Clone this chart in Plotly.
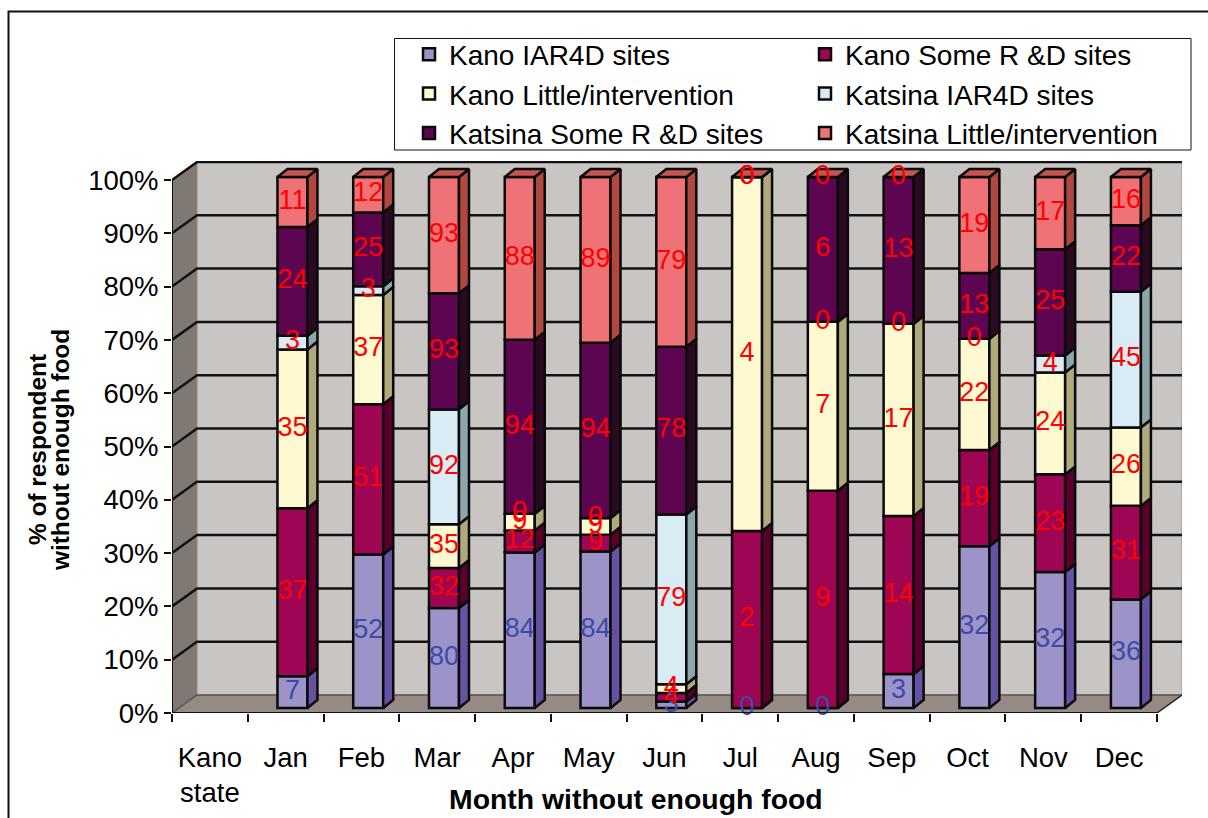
import plotly.graph_objects as go

categories = ["Kano<br>state", "Jan", "Feb", "Mar", "Apr", "May", "Jun", "Jul", "Aug", "Sep", "Oct", "Nov", "Dec"]
kano_iar4d = [0, 7, 52, 80, 84, 84, 3, 0, 0, 3, 32, 32, 36]
kano_some = [0, 37, 51, 32, 12, 9, 4, 2, 9, 14, 19, 23, 31]
kano_little = [0, 35, 37, 35, 9, 9, 4, 4, 7, 17, 22, 24, 26]
katsina_iar4d = [0, 3, 3, 92, 0, 0, 79, 0, 0, 0, 0, 4, 45]
katsina_some = [0, 24, 25, 93, 94, 94, 78, 0, 6, 13, 13, 25, 22]
katsina_little = [0, 11, 12, 93, 88, 89, 79, 0, 0, 0, 19, 17, 16]
y_ticks = list(range(0, 101, 10))
y_tick_labels = [f"{v}%" for v in y_ticks]

series = [
    ("Kano IAR4D sites", kano_iar4d, "#9C93C8", "#6552A2", "#3B4BA8"),
    ("Kano Some R &D sites", kano_some, "#9E0552", "#58002B", "#FF0000"),
    ("Kano Little/intervention", kano_little, "#FFF9D2", "#AFA97C", "#FF0000"),
    ("Katsina IAR4D sites", katsina_iar4d, "#D9EBF4", "#8AA8AB", "#FF0000"),
    ("Katsina Some R &D sites", katsina_some, "#5E0552", "#2A0A20", "#FF0000"),
    ("Katsina Little/intervention", katsina_little, "#EE7276", "#B0483F", "#FF0000"),
]
TOP_COLOR = "#C4554F"
FONT = "Liberation Sans"
EDGE = "#0A0A0A"

# page geometry (pixels)
W, H = 1208, 818
L, R, T, B = 172, 1182, 161, 713
CAT_PX = (1157 - 172) / 13
PCT_PX = (B - 180) / 100
x_range = [-0.5, -0.5 + (R - L) / CAT_PX]
y_range = [0, (B - T) / PCT_PX]
WALL_DX, WALL_DY = 25 / CAT_PX, 18 / PCT_PX
BAR_DX, BAR_DY = 10 / CAT_PX, 8 / PCT_PX
BAR_W = 30 / CAT_PX
BAR_SHIFT = 6.8 / CAT_PX
BAR_LIFT = 5 / PCT_PX
BAR_SCALE = 531 / 533


def px(x):
    return (x - L) / (R - L)


def py(y):
    return (B - y) / (B - T)


positions = list(range(len(categories)))
totals = [sum(s[1][i] for s in series) for i in positions]

fig = go.Figure()
running = [0.0] * len(categories)
label_x, label_y, label_t, label_c = [], [], [], []
side_traces = []
for name, vals, front, side, txt in series:
    bases, heights, sx, sy = [], [], [], []
    for i in positions:
        if totals[i] == 0:
            bases.append(None)
            heights.append(None)
            continue
        h = vals[i] / totals[i] * 100 * BAR_SCALE
        b0 = running[i] + BAR_LIFT
        bases.append(b0)
        heights.append(h)
        running[i] += h
        right = i + BAR_SHIFT + BAR_W / 2
        sx += [right, right + BAR_DX, right + BAR_DX, right, right, None]
        sy += [b0, b0 + BAR_DY, b0 + h + BAR_DY, b0 + h, b0, None]
        label_x.append(i + BAR_SHIFT)
        label_y.append(b0 + h / 2)
        label_t.append(str(vals[i]))
        label_c.append(txt)
    fig.add_trace(go.Bar(
        x=positions, y=heights, base=bases, name=name, width=BAR_W,
        offset=BAR_SHIFT - BAR_W / 2,
        marker=dict(color=front, line=dict(color=EDGE, width=2.5)),
        hoverinfo="skip",
    ))
    side_traces.append(go.Scatter(
        x=sx, y=sy, mode="lines", fill="toself", fillcolor=side,
        line=dict(color=EDGE, width=2.5), showlegend=False, hoverinfo="skip",
    ))

for tr in side_traces:
    fig.add_trace(tr)

# top faces
tx, ty = [], []
for i in positions:
    if totals[i] == 0:
        continue
    l, r = i + BAR_SHIFT - BAR_W / 2, i + BAR_SHIFT + BAR_W / 2
    t = running[i] + BAR_LIFT
    tx += [l, r, r + BAR_DX, l + BAR_DX, l, None]
    ty += [t, t, t + BAR_DY, t + BAR_DY, t, None]
fig.add_trace(go.Scatter(
    x=tx, y=ty, mode="lines", fill="toself", fillcolor=TOP_COLOR,
    line=dict(color=EDGE, width=2.5), showlegend=False, hoverinfo="skip",
))

fig.add_trace(go.Scatter(
    x=label_x, y=label_y, mode="text", text=label_t,
    textfont=dict(family=FONT, size=27, color=label_c),
    textposition="middle center", showlegend=False, hoverinfo="skip", cliponaxis=False,
))

x0, x1 = x_range
shapes = []
# left wall, back wall, floor
shapes.append(dict(type="path", layer="below", xref="x", yref="y",
                   path=f"M{x0},0 L{x0+WALL_DX},{WALL_DY} L{x0+WALL_DX},{100+WALL_DY} L{x0},100 Z",
                   fillcolor="#807873", line=dict(width=0)))
shapes.append(dict(type="rect", layer="below", xref="x", yref="y",
                   x0=x0 + WALL_DX, x1=x1, y0=WALL_DY, y1=100 + WALL_DY,
                   fillcolor="#C9C5C3", line=dict(color="#8F8A87", width=1)))
shapes.append(dict(type="path", layer="below", xref="x", yref="y",
                   path=f"M{x0},0 L{x0+WALL_DX},{WALL_DY} L{x1},{WALL_DY} L{x1-WALL_DX},0 Z",
                   fillcolor="#958A85", line=dict(width=0)))
# grid lines across walls
for v in y_ticks:
    color, width = ("#5C5552", 1.5) if v == 0 else ("#111111", 2.5)
    shapes.append(dict(type="path", layer="below", xref="x", yref="y",
                       path=f"M{x0},{v} L{x0+WALL_DX},{v+WALL_DY} L{x1},{v+WALL_DY}",
                       line=dict(color=color, width=width)))
shapes.append(dict(type="line", layer="below", xref="x", yref="y",
                   x0=x1 - WALL_DX, y0=0, x1=x1, y1=WALL_DY, line=dict(color="#222222", width=1.5)))
# legend box and outer frame
shapes.append(dict(type="rect", layer="below", xref="paper", yref="paper",
                   x0=px(394.5), x1=px(1191), y0=py(38.5), y1=py(150),
                   fillcolor="white", line=dict(color="#111111", width=1)))
shapes.append(dict(type="path", layer="below", xref="paper", yref="paper",
                   path=f"M{px(8.5)},{py(830)} L{px(8.5)},{py(11.5)} L{px(1300)},{py(11.5)}",
                   line=dict(color="#111111", width=2)))

axis_font = dict(family=FONT, size=27.5, color="black")
title_font = dict(family=FONT, size=24.4, color="black")
fig.update_layout(
    width=W, height=H, autosize=False,
    margin=dict(l=L, r=W - R, t=T, b=H - B, pad=0),
    paper_bgcolor="white", plot_bgcolor="white",
    barmode="overlay", shapes=shapes,
    showlegend=True,
    legend=dict(orientation="h", xref="container", yref="container", x=409 / W, y=1 - 29.5 / H,
                xanchor="left", yanchor="top",
                entrywidth=351, entrywidthmode="pixels", traceorder="normal",
                bgcolor="rgba(0,0,0,0)", borderwidth=0, font=dict(family=FONT, size=28, color="black")),
    xaxis=dict(range=x_range, tickmode="array", tickvals=positions, ticktext=categories,
               ticks="", showgrid=False, zeroline=False, tickfont=axis_font, ticklabelstandoff=25,
               showline=False, automargin=False,
               minor=dict(tickmode="array", tickvals=[p - 0.5 for p in positions] + [12.5],
                          ticks="outside", ticklen=8, tickcolor="#111111", tickwidth=1.5, showgrid=False)),
    yaxis=dict(range=y_range, tickmode="array", tickvals=y_ticks, ticktext=y_tick_labels,
               ticks="outside", ticklen=7, tickcolor="#111111", tickwidth=1.5,
               showgrid=False, zeroline=False, tickfont=axis_font, showline=False, automargin=False),
    annotations=[
        dict(text="<b>Month without enough food</b>", xref="paper", yref="paper",
             x=px(636), y=py(799), xanchor="center", yanchor="middle", showarrow=False,
             font=dict(family=FONT, size=28.4, color="black")),
        dict(text="<b>% of respondent</b>", xref="paper", yref="paper",
             x=px(37), y=py(450), xanchor="center", yanchor="middle", showarrow=False, textangle=-90,
             font=title_font),
        dict(text="<b>without enough food</b>", xref="paper", yref="paper",
             x=px(60), y=py(450), xanchor="center", yanchor="middle", showarrow=False, textangle=-90,
             font=title_font),
    ],
)
# front edges of the chart box
fig.add_shape(type="line", xref="x", yref="y", x0=x0, y0=0, x1=x0, y1=100, layer="above",
              line=dict(color="#111111", width=2))
fig.add_shape(type="line", xref="x", yref="y", x0=x0, y0=0, x1=x1 - WALL_DX, y1=0, layer="above",
              line=dict(color="#111111", width=2))

fig.write_html("out.html", config={"displayModeBar": False}, post_script="document.body.style.margin='0';")
